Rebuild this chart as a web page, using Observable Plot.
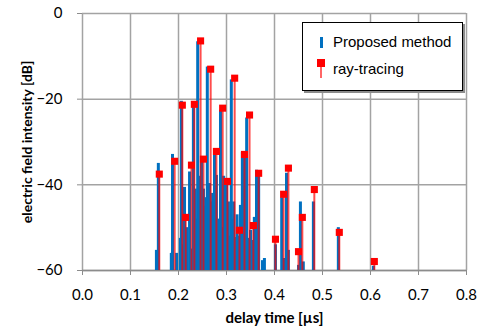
<!DOCTYPE html>
<html><head><meta charset="utf-8">
<script src="https://cdn.jsdelivr.net/npm/d3@7"></script>
<script src="https://cdn.jsdelivr.net/npm/@observablehq/plot@0.6"></script>
<style>
body{margin:0;background:#fff;}
#wrap{position:relative;width:480px;height:329px;overflow:hidden;}
#wrap svg [aria-label="x-axis label"]{font-weight:bold;font-size:15px;}
#wrap svg [aria-label="y-axis label"]{font-weight:bold;font-size:14px;}
.legend{position:absolute;left:302px;top:22px;width:159px;height:67px;border:1px solid #000;background:#fff;box-shadow:2px 2px 0 #8c8c8c;font-family:"Liberation Sans",Arial,sans-serif;font-size:15px;color:#000;}
.legend .t{position:absolute;left:30px;white-space:nowrap;}
.legend .b{position:absolute;left:17px;top:14px;width:3px;height:11px;background:#0070C0;}
.legend .sq{position:absolute;left:14px;top:36px;width:8px;height:8px;background:#ff0000;}
.legend .st{position:absolute;left:17px;top:44px;width:2px;height:11px;background:#ff6666;}
</style></head>
<body><div id="wrap"></div>
<script>
// ray-tracing (red markers)
const rayX = [0.160,0.192,0.208,0.215,0.227,0.233,0.246,0.252,0.267,0.279,0.292,0.302,0.317,0.327,0.3375,0.348,0.356,0.367,0.402,0.419,0.429,0.450,0.458,0.483,0.535,0.608];
const rayY = [-37.5,-34.5,-21.4,-47.6,-35.4,-21.2,-6.4,-34.0,-13.0,-32.2,-22.1,-39.2,-15.1,-50.6,-32.9,-23.7,-49.5,-37.3,-52.7,-42.2,-36.1,-55.6,-47.6,-41.1,-51.1,-57.9];
// proposed method (blue stems)
const propX = [0.154,0.158,0.185,0.1875,0.196,0.204,0.206,0.210,0.2125,0.217,0.223,0.227,0.231,0.235,0.2375,0.240,0.2425,0.244,0.248,0.250,0.252,0.254,0.256,0.258,0.260,0.2625,0.2645,0.267,0.269,0.271,0.273,0.275,0.277,0.279,0.283,0.2875,0.291,0.294,0.297,0.300,0.304,0.307,0.310,0.313,0.315,0.319,0.322,0.325,0.329,0.333,0.3375,0.342,0.346,0.350,0.354,0.358,0.3625,0.367,0.375,0.379,0.402,0.415,0.419,0.425,0.429,0.450,0.454,0.460,0.481,0.533,0.606];
const propY = [-55.3,-35,-56,-32.9,-56,-52.5,-20.5,-54,-40.6,-50,-37,-55,-21,-41,-48,-6.6,-45,-38,-34.3,-46,-41,-50,-45,-43,-12.5,-48,-39.7,-46,-44,-42,-50,-32.6,-46,-37.8,-48,-22.6,-50,-38,-47,-39.4,-44,-52,-15.5,-48,-44,-52.3,-47,-52,-44.8,-32.4,-33.8,-24.4,-52.5,-50.6,-53,-47.6,-36.6,-37.8,-57.7,-57.2,-54,-43,-57.2,-37.3,-55.3,-58.8,-44,-58,-44,-50,-59];
const xTicks = [0,0.1,0.2,0.3,0.4,0.5,0.6,0.7,0.8];
const yTicks = [-60,-40,-20,0];

const blue = propX.map((x,i)=>({x, y: propY[i]}));
const red = rayX.map((x,i)=>({x, y: rayY[i]}));

const gridC = "#a3a3a3";
const chart = Plot.plot({
  width: 480, height: 329,
  marginLeft: 82, marginRight: 14, marginTop: 13, marginBottom: 59,
  style: {fontFamily: "Lato, 'Open Sans', sans-serif", fontSize: "15px", color: "#000", background: "#fff"},
  x: {domain: [0, 0.8]},
  y: {domain: [-60, 0]},
  marks: [
    Plot.gridX(xTicks, {stroke: gridC, strokeOpacity: 1, strokeWidth: 1.5}),
    Plot.gridY(yTicks, {stroke: gridC, strokeOpacity: 1, strokeWidth: 1.5}),
    Plot.ruleY([-60], {stroke: "#8c8c8c", strokeWidth: 1.5}),
    Plot.axisX(xTicks, {tickFormat: d3.format(".1f"), tickSize: 5, tickPadding: 14, stroke: "#8c8c8c",
      label: "delay time [µs]", labelArrow: "none", labelAnchor: "center", labelOffset: 52}),
    Plot.axisY(yTicks, {tickSize: 5, tickPadding: 15, stroke: "#8c8c8c",
      label: "electric field intensity [dB]", labelArrow: "none", labelAnchor: "center", labelOffset: 60}),
    Plot.ruleX(blue, {x: "x", y1: -60, y2: "y", stroke: "#0070C0", strokeWidth: 3}),
    Plot.ruleX(red, {x: "x", y1: -60, y2: "y", stroke: "#ff0000", strokeOpacity: 0.7, strokeWidth: 2}),
    Plot.dot(red, {x: "x", y: "y", symbol: "square", r: 4, fill: "#ff0000", stroke: "none"})
  ]
});
const wrap = document.getElementById("wrap");
wrap.appendChild(chart);
const lg = document.createElement("div");
lg.className = "legend";
lg.innerHTML = '<div class="b"></div><div class="t" style="top:10px">Proposed method</div>' +
  '<div class="sq"></div><div class="st"></div><div class="t" style="top:37px">ray-tracing</div>';
wrap.appendChild(lg);
</script></body></html>
